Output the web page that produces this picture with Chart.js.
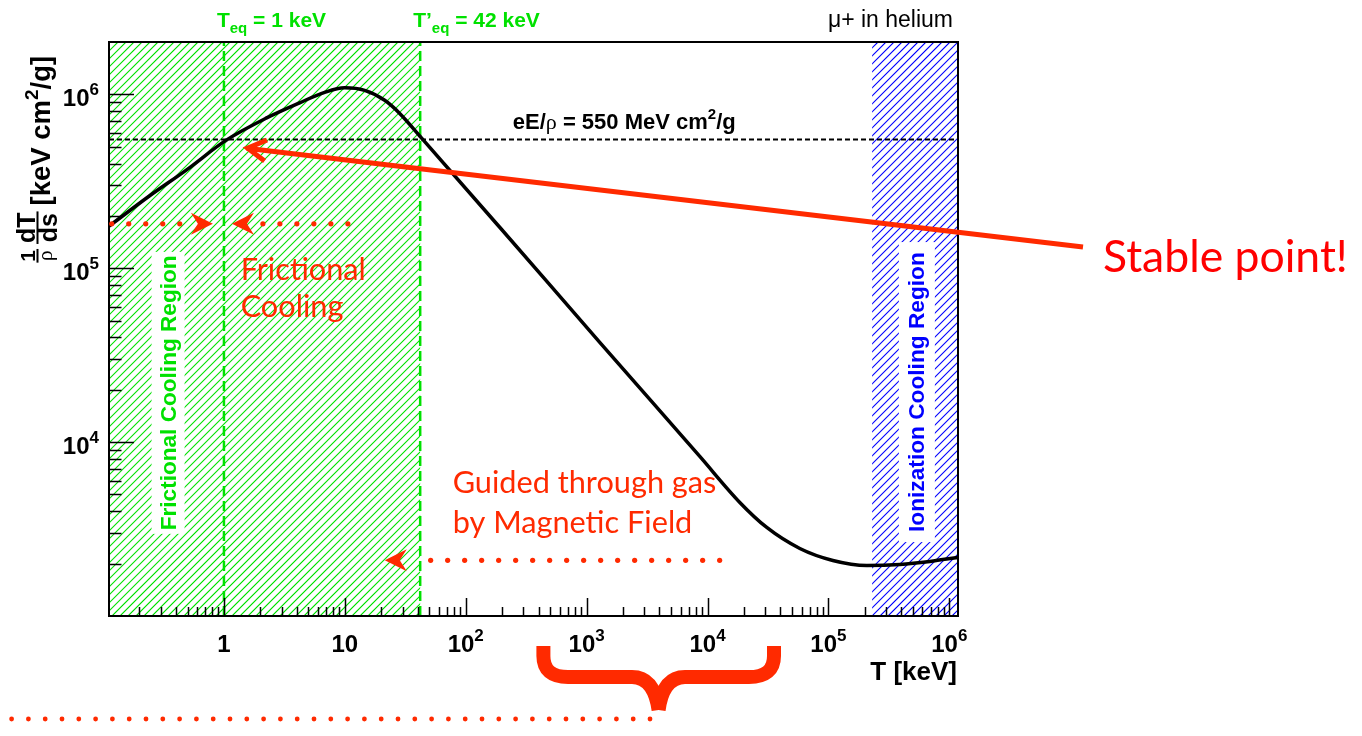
<!DOCTYPE html>
<html>
<head>
<meta charset="utf-8">
<script src="https://cdn.jsdelivr.net/npm/chart.js@4.4.1/dist/chart.umd.min.js"></script>
<style>
  html, body { margin: 0; padding: 0; background: #fff; }
  #wrap { width: 1362px; height: 736px; position: relative; }
</style>
</head>
<body>
<div id="wrap"><canvas id="stopping"></canvas></div>
<script>
// mu+ in helium: stopping power (keV cm2/g) against kinetic energy T (keV)
const energyKeV = [0.112, 0.243, 0.491, 1.053, 2.256, 4.229, 6.81, 9.97, 14.59, 21.36, 28.43, 43.0, 191, 1284, 8630, 1.85e4, 3.09e4, 5.8e4, 1.088e5, 2.08e5, 3.9e5, 6.9e5, 1.177e6];
const stoppingPower = [1.745e5, 2.61e5, 3.68e5, 5.47e5, 7.32e5, 8.94e5, 1.027e6, 1.09e6, 1.054e6, 9.24e5, 7.77e5, 5.62e5, 1.72e5, 3.75e4, 8270, 4500, 3230, 2446, 2087, 1953, 1980, 2060, 2172];

const xRange = [0.112, 1.18e6];
const yRange = [1000, 2e6];
const fieldLevel = 5.5e5;            // eE/rho = 550 MeV cm2/g
const tEq = 1;
const tEqPrime = 42;
const frictionRegion = [0.112, 42];
const ionizationRegion = [2.3e5, 1.18e6];

const xTickValues = [1, 10, 100, 1e3, 1e4, 1e5, 1e6];
const xTickLabels = [['1', ''], ['10', ''], ['10', '2'], ['10', '3'], ['10', '4'], ['10', '5'], ['10', '6']];
const yTickValues = [1e4, 1e5, 1e6];
const yTickLabels = [['10', '4'], ['10', '5'], ['10', '6']];

// annotation anchors, in data units (T, dT/ds)
const stableTip = [1.54, 4.9e5];
const arrowRowLevel = 1.8e5;
const arrowRight = [0.118, 0.81];      // dots start -> arrow tip
const arrowLeft = [10.6, 1.165];
const guidedLevel = 2090;
const guidedArrow = [12600, 21.4];
const frictionTextAt = [1.375, 8.6e4, 5.24e4];
const guidedTextAt = [78, 5070, 2985];
const fieldTextAt = [245, 6.35e5];
const frictionBoxAt = [0.345, 1.92e4];
const ionBoxAt = [5.39e5, 1.94e4];

const RED = '#ff2a00';
const GREEN = 'rgb(0,225,0)';
const BLUE = '#0000ff';
const SANS = '"Liberation Sans", Arial, sans-serif';
const HUMAN = 'Lato, "Open Sans", sans-serif';

function partFont(p, s) {
  const size = (p.sup || p.sub) ? Math.round(s * 0.7) : s;
  const weight = p.regular ? 'normal' : 'bold';
  const fam = p.serif ? '"Liberation Serif", serif' : SANS;
  return weight + ' ' + size + 'px ' + fam;
}
function richWidth(ctx, parts, s) {
  let w = 0;
  for (const p of parts) { ctx.font = partFont(p, s); w += ctx.measureText(p.t).width; }
  return w;
}
function drawRich(ctx, parts, x, y, s, align) {
  const w = richWidth(ctx, parts, s);
  let cx = align === 'right' ? x - w : align === 'center' ? x - w / 2 : x;
  ctx.textAlign = 'left';
  ctx.textBaseline = 'alphabetic';
  for (const p of parts) {
    ctx.font = partFont(p, s);
    const dy = p.sup ? -0.45 * s : p.sub ? 0.3 * s : 0;
    ctx.fillText(p.t, cx, y + dy);
    cx += ctx.measureText(p.t).width;
  }
  return w;
}
function fitSize(ctx, text, weight, fam, target) {
  ctx.font = weight + ' 20px ' + fam;
  return 20 * target / ctx.measureText(text).width;
}

function hatchBand(ctx, x0, x1, top, bottom, color) {
  ctx.save();
  ctx.beginPath();
  ctx.rect(x0, top, x1 - x0, bottom - top);
  ctx.clip();
  ctx.strokeStyle = color;
  ctx.lineWidth = 1.1;
  const h = bottom - top;
  let start = x0 - h;
  start -= ((start % 8) + 8) % 8;
  ctx.beginPath();
  for (let x = start; x < x1 + 8; x += 8) {
    ctx.moveTo(x, bottom);
    ctx.lineTo(x + h, top);
  }
  ctx.stroke();
  ctx.restore();
}

function arrowHead(ctx, tx, ty, dir) {
  // notched filled arrow head, dir = +1 pointing right, -1 pointing left
  ctx.beginPath();
  ctx.moveTo(tx, ty);
  ctx.lineTo(tx - dir * 22, ty - 11);
  ctx.lineTo(tx - dir * 15, ty);
  ctx.lineTo(tx - dir * 22, ty + 11);
  ctx.closePath();
  ctx.fill();
}
function dottedArrow(ctx, x0, x1, y) {
  const dir = x1 > x0 ? 1 : -1;
  for (let x = x0; dir * (x1 - x) > 30; x += dir * 17) {
    ctx.beginPath();
    ctx.arc(x, y, 2.6, 0, Math.PI * 2);
    ctx.fill();
  }
  arrowHead(ctx, x1, y, dir);
}

function drawFraction(ctx, u, num, den, numSize, denSize, denSerif) {
  const denFont = denSerif ? 'normal ' + denSize + 'px "Liberation Serif", serif' : 'bold ' + denSize + 'px ' + SANS;
  ctx.font = 'bold ' + numSize + 'px ' + SANS;
  const nw = ctx.measureText(num).width;
  ctx.font = denFont;
  const dw = ctx.measureText(den).width;
  const w = Math.max(nw, dw) + 2;
  ctx.textAlign = 'center';
  ctx.textBaseline = 'alphabetic';
  ctx.font = 'bold ' + numSize + 'px ' + SANS;
  ctx.fillText(num, u + w / 2, -15);
  ctx.font = denFont;
  ctx.fillText(den, u + w / 2, denSerif ? 2 : 7);
  ctx.fillRect(u, -13.5, w, 2);
  return w;
}

const hatching = {
  id: 'hatching',
  beforeDatasetsDraw(chart) {
    const a = chart.chartArea;
    const xs = chart.scales.x;
    hatchBand(chart.ctx, xs.getPixelForValue(frictionRegion[0]), xs.getPixelForValue(frictionRegion[1]), a.top, a.bottom, GREEN);
    hatchBand(chart.ctx, xs.getPixelForValue(ionizationRegion[0]), xs.getPixelForValue(ionizationRegion[1]), a.top, a.bottom, BLUE);
  }
};

const overlay = {
  id: 'overlay',
  afterDatasetsDraw(chart) {
    const ctx = chart.ctx;
    const a = chart.chartArea;
    const xs = chart.scales.x, ys = chart.scales.y;
    const X = v => xs.getPixelForValue(v);
    const Y = v => ys.getPixelForValue(v);
    ctx.save();

    // white label boxes with vertical region names
    const boxes = [
      { at: frictionBoxAt, w: 33, h: 282, text: 'Frictional Cooling Region', color: GREEN, len: 275, off: 7.5 },
      { at: ionBoxAt, w: 36, h: 300, text: 'Ionization Cooling Region', color: BLUE, len: 280, off: 7 }
    ];
    for (const b of boxes) {
      const cx = X(b.at[0]), cy = Y(b.at[1]);
      ctx.fillStyle = '#fff';
      ctx.fillRect(cx - b.w / 2, cy - b.h / 2, b.w, b.h);
      const s = fitSize(ctx, b.text, 'bold', SANS, b.len);
      ctx.save();
      ctx.translate(cx + b.off, cy);
      ctx.rotate(-Math.PI / 2);
      ctx.font = 'bold ' + s.toFixed(1) + 'px ' + SANS;
      ctx.fillStyle = b.color;
      ctx.textAlign = 'center';
      ctx.textBaseline = 'alphabetic';
      ctx.fillText(b.text, 0, 0);
      ctx.restore();
    }

    // frame
    ctx.strokeStyle = '#000';
    ctx.lineWidth = 2;
    ctx.strokeRect(a.left, a.top, a.right - a.left, a.bottom - a.top);

    // inward ticks
    ctx.lineWidth = 1.5;
    ctx.beginPath();
    for (let k = -1; k <= 6; k++) {
      for (let m = 1; m <= 9; m++) {
        const v = m * Math.pow(10, k);
        if (v < xRange[0] || v > xRange[1]) continue;
        const px = Math.round(X(v)) + 0.5;
        ctx.moveTo(px, a.bottom);
        ctx.lineTo(px, a.bottom - (m === 1 ? 18 : 9));
      }
    }
    for (let k = 3; k <= 6; k++) {
      for (let m = 1; m <= 9; m++) {
        const v = m * Math.pow(10, k);
        if (v <= yRange[0] || v >= yRange[1]) continue;
        const py = Math.round(Y(v)) + 0.5;
        ctx.moveTo(a.left, py);
        ctx.lineTo(a.left + (m === 1 ? 25 : 12.5), py);
      }
    }
    ctx.stroke();

    // tick labels
    ctx.fillStyle = '#000';
    xTickValues.forEach((v, i) => {
      const parts = [{ t: xTickLabels[i][0] }];
      if (xTickLabels[i][1]) parts.push({ t: xTickLabels[i][1], sup: true });
      drawRich(ctx, parts, X(v), a.bottom + 36, 24, 'center');
    });
    yTickValues.forEach((v, i) => {
      const parts = [{ t: yTickLabels[i][0] }, { t: yTickLabels[i][1], sup: true }];
      drawRich(ctx, parts, a.left - 10, Y(v) + 11.5, 24, 'right');
    });

    // axis titles
    drawRich(ctx, [{ t: 'T [keV]' }], a.right - 1, a.bottom + 64, 26, 'right');
    ctx.save();
    const rest = [{ t: '[keV cm' }, { t: '2', sup: true }, { t: '/g]' }];
    const restW = richWidth(ctx, rest, 27.5);
    const titleLen = 24 + 5 + 34 + 6 + restW;
    ctx.translate(50, a.top + 2 + titleLen);
    ctx.rotate(-Math.PI / 2);
    let u = 0;
    u += drawFraction(ctx, u, '1', '\u03c1', 21, 22, true) + 5;
    u += drawFraction(ctx, u, 'dT', 'ds', 25, 25, false) + 6;
    drawRich(ctx, rest, u, 0, 27.5, 'left');
    ctx.restore();

    // labels above the frame
    ctx.fillStyle = GREEN;
    drawRich(ctx, [{ t: 'T' }, { t: 'eq', sub: true }, { t: ' = 1 keV' }], X(tEq) - 7, a.top - 15, 21, 'left');
    drawRich(ctx, [{ t: 'T\u2019' }, { t: 'eq', sub: true }, { t: ' = 42 keV' }], X(tEqPrime) - 7, a.top - 15, 21, 'left');
    ctx.fillStyle = '#000';
    ctx.font = 'normal 23px ' + SANS;
    ctx.textAlign = 'right';
    ctx.fillText('\u03bc+ in helium', a.right - 5, a.top - 15);

    drawRich(ctx, [{ t: 'eE/' }, { t: '\u03c1', regular: true, serif: true }, { t: ' = 550 MeV cm' }, { t: '2', sup: true }, { t: '/g' }],
      X(fieldTextAt[0]), Y(fieldTextAt[1]), 22, 'left');

    // red annotations inside the frame
    ctx.fillStyle = RED;
    dottedArrow(ctx, X(arrowRight[0]), X(arrowRight[1]), Y(arrowRowLevel));
    dottedArrow(ctx, X(arrowLeft[0]), X(arrowLeft[1]), Y(arrowRowLevel));
    dottedArrow(ctx, X(guidedArrow[0]), X(guidedArrow[1]), Y(guidedLevel));

    const fs = fitSize(ctx, 'Frictional', 'normal', HUMAN, 125);
    ctx.font = 'normal ' + fs.toFixed(1) + 'px ' + HUMAN;
    ctx.textAlign = 'left';
    ctx.fillText('Frictional', X(frictionTextAt[0]), Y(frictionTextAt[1]));
    ctx.fillText('Cooling', X(frictionTextAt[0]), Y(frictionTextAt[2]));
    const gs = fitSize(ctx, 'Guided through gas', 'normal', HUMAN, 264);
    ctx.font = 'normal ' + gs.toFixed(1) + 'px ' + HUMAN;
    ctx.fillText('Guided through gas', X(guidedTextAt[0]), Y(guidedTextAt[1]));
    ctx.fillText('by Magnetic Field', X(guidedTextAt[0]), Y(guidedTextAt[2]));

    // stable point arrow and label (to the right of the frame)
    const tip = [X(stableTip[0]), Y(stableTip[1])];
    const tail = [a.right + 125, a.top + 205];
    ctx.strokeStyle = RED;
    ctx.lineWidth = 5;
    ctx.lineCap = 'butt';
    ctx.lineJoin = 'miter';
    ctx.beginPath();
    ctx.moveTo(tail[0], tail[1]);
    ctx.lineTo(tip[0], tip[1]);
    ctx.stroke();
    const ang = Math.atan2(tail[1] - tip[1], tail[0] - tip[0]);
    ctx.beginPath();
    ctx.moveTo(tip[0] + 22 * Math.cos(ang - 0.5), tip[1] + 22 * Math.sin(ang - 0.5));
    ctx.lineTo(tip[0] + 1, tip[1]);
    ctx.lineTo(tip[0] + 22 * Math.cos(ang + 0.5), tip[1] + 22 * Math.sin(ang + 0.5));
    ctx.stroke();

    ctx.fillStyle = '#ff0000';
    const ss = fitSize(ctx, 'Stable point!', 'normal', HUMAN, 245);
    ctx.font = 'normal ' + ss.toFixed(1) + 'px ' + HUMAN;
    ctx.textAlign = 'left';
    ctx.fillText('Stable point!', a.right + 145, a.top + 230);

    // brace under the 10^3 - 10^4 decades and the dotted lead below it
    ctx.strokeStyle = RED;
    ctx.lineWidth = 14;
    const by = a.bottom;
    ctx.beginPath();
    ctx.moveTo(543.4, by + 30);
    ctx.lineTo(543.4, by + 40);
    ctx.quadraticCurveTo(543.4, by + 61, 568, by + 61);
    ctx.lineTo(632, by + 61);
    ctx.quadraticCurveTo(654, by + 61, 658.6, by + 94);
    ctx.moveTo(774, by + 30);
    ctx.lineTo(774, by + 40);
    ctx.quadraticCurveTo(774, by + 61, 749, by + 61);
    ctx.lineTo(685, by + 61);
    ctx.quadraticCurveTo(663, by + 61, 658.6, by + 94);
    ctx.stroke();
    ctx.fillStyle = RED;
    for (let x = 650; x > 4; x -= 16.8) {
      ctx.beginPath();
      ctx.arc(x, by + 103, 2.4, 0, Math.PI * 2);
      ctx.fill();
    }
    ctx.restore();
  }
};

const ctxMain = document.getElementById('stopping').getContext('2d');
new Chart(ctxMain, {
  type: 'line',
  data: {
    datasets: [
      {
        label: 'dT/ds',
        data: energyKeV.map((x, i) => ({ x: x, y: stoppingPower[i] })),
        borderColor: '#000', borderWidth: 3.5, pointRadius: 0,
        cubicInterpolationMode: 'monotone', fill: false, order: 0
      },
      {
        label: 'eE/rho',
        data: xRange.map(x => ({ x: x, y: fieldLevel })),
        borderColor: '#000', borderWidth: 2, borderDash: [5, 3], pointRadius: 0, fill: false, order: 1
      },
      {
        label: 'Teq',
        data: yRange.map(y => ({ x: tEq, y: y })),
        borderColor: GREEN, borderWidth: 2.5, borderDash: [10, 5], pointRadius: 0, fill: false, order: 1
      },
      {
        label: "T'eq",
        data: yRange.map(y => ({ x: tEqPrime, y: y })),
        borderColor: GREEN, borderWidth: 2.5, borderDash: [10, 5], pointRadius: 0, fill: false, order: 1
      }
    ]
  },
  options: {
    responsive: true,
    maintainAspectRatio: false,
    animation: false,
    layout: { padding: { left: 109, top: 42, right: 404, bottom: 120 } },
    plugins: { legend: { display: false }, tooltip: { enabled: false } },
    scales: {
      x: {
        type: 'logarithmic', min: xRange[0], max: xRange[1],
        grid: { display: false }, border: { display: false }, ticks: { display: false },
        afterFit(s) { s.height = 0; }
      },
      y: {
        type: 'logarithmic', min: yRange[0], max: yRange[1],
        grid: { display: false }, border: { display: false }, ticks: { display: false },
        afterFit(s) { s.width = 0; }
      }
    }
  },
  plugins: [hatching, overlay]
});
</script>
</body>
</html>
